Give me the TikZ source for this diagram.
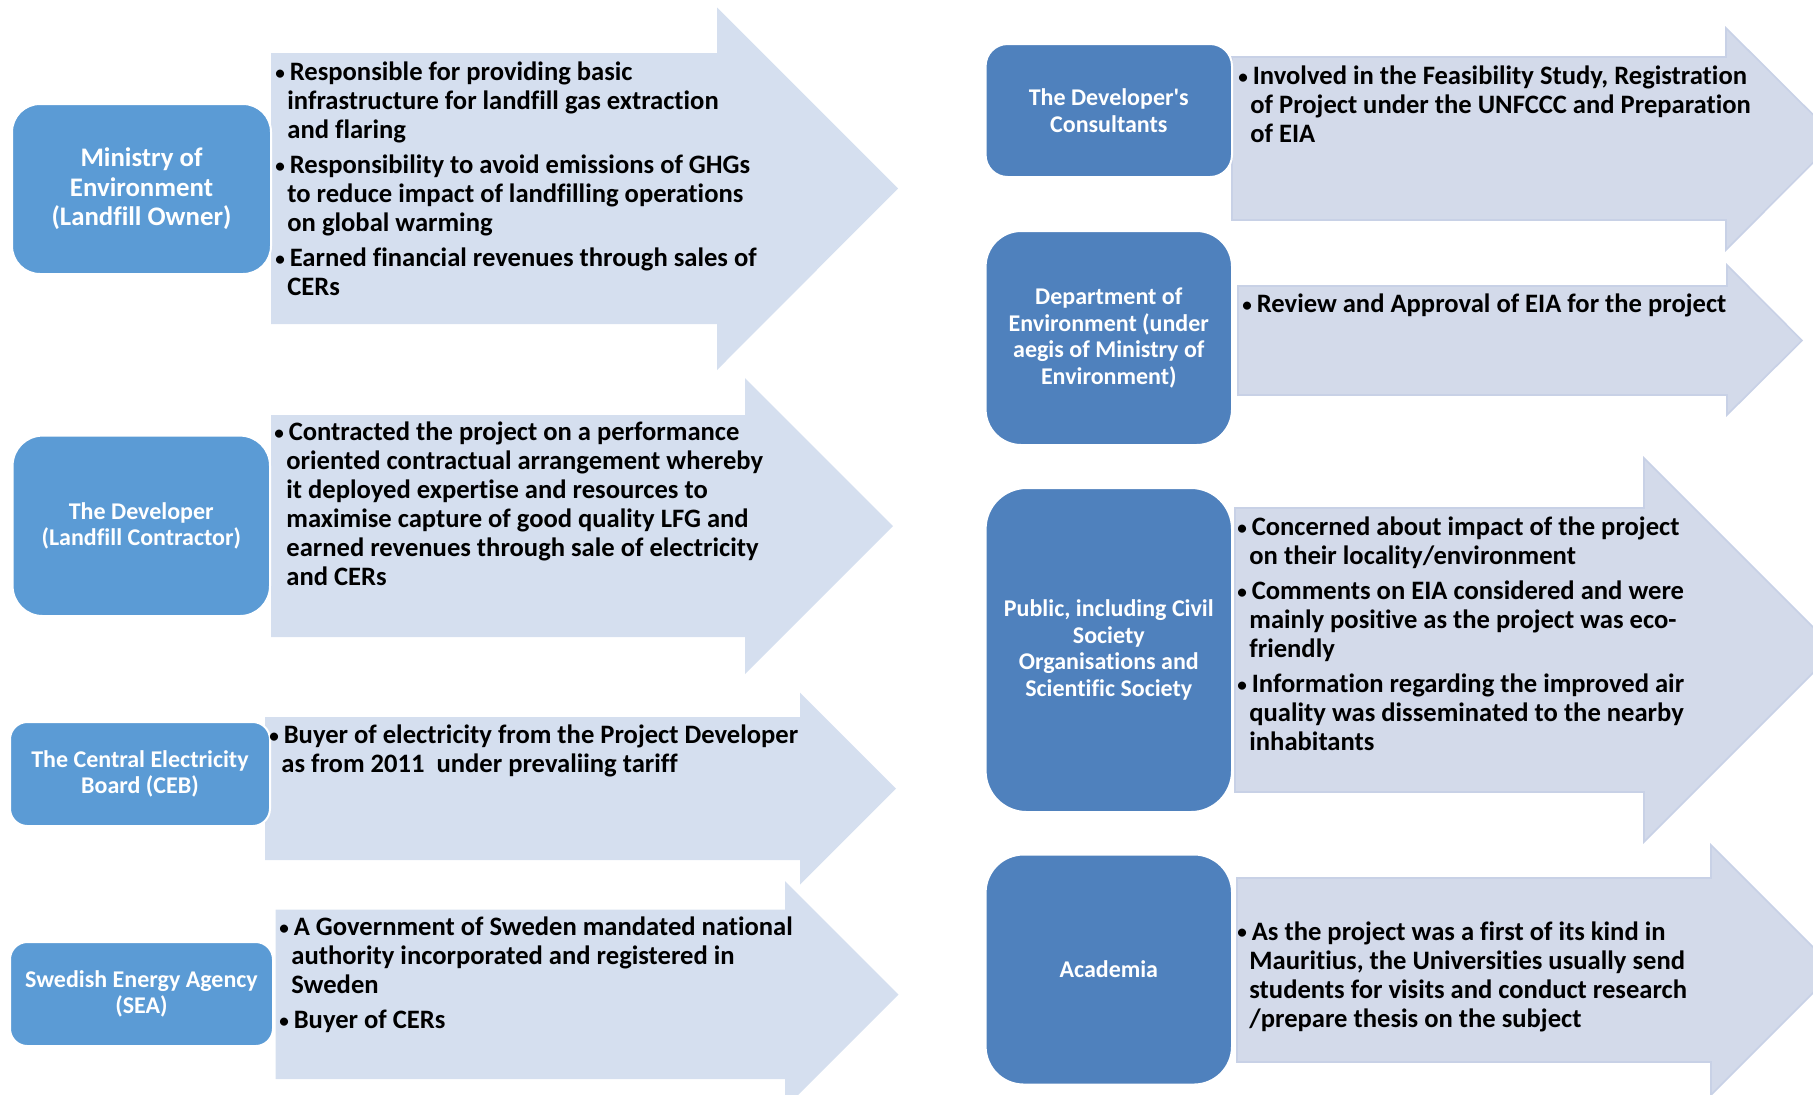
\documentclass[tikz,border=0pt]{standalone}
\usepackage{fontspec}
\setmainfont{Carlito}[Ligatures={NoCommon}]
\definecolor{boxL}{HTML}{5B9BD5}
\definecolor{boxR}{HTML}{4F81BD}
\definecolor{arrL}{HTML}{D5DFEF}
\definecolor{arrR}{HTML}{D3DAEA}
\definecolor{arrRline}{HTML}{C8D1E6}
\newcommand\bu{\makebox[7.2pt][l]{\raisebox{0.9pt}{\scalebox{0.72}{•}}}}
\newcommand\ind{\hspace*{6pt}}
\newcommand\fs{\rule{0pt}{11pt}}
\tikzset{
  arrowL/.style={fill=arrL},
  arrowR/.style={fill=arrR, draw=arrRline, line width=0.8pt},
  boxbase/.style={draw=white, line width=1pt, text=white, align=center,
    font=\bfseries\fontsize{12}{13.2}\selectfont, inner sep=0pt},
  leftbox/.style={boxbase, fill=boxL},
  rightbox/.style={boxbase, fill=boxR},
  body/.style={anchor=north west, align=left, inner sep=0pt,
    font=\bfseries\fontsize{13.3}{14.5}\selectfont}
}
\begin{document}
\begin{tikzpicture}[x=0.5pt,y=-0.5pt]
\useasboundingbox (0,0) rectangle (1813,1094);
\begin{scope}
\clip (0,0) rectangle (1813,1094);
% left arrows
\fill[arrowL] (271,53) -- (717,53) -- (717,7.5) -- (898,188.5) -- (717,370) -- (717,324) -- (271,324) -- cycle;
\fill[arrowL] (271,415) -- (745,415) -- (745,378) -- (893,526) -- (745,674) -- (745,637) -- (271,637) -- cycle;
\fill[arrowL] (265,717) -- (800,717) -- (800,692.5) -- (896,788.5) -- (800,884.5) -- (800,860) -- (265,860) -- cycle;
\fill[arrowL] (275.5,909.6) -- (785,909.6) -- (785,881) -- (898.5,994.5) -- (785,1108) -- (785,1079) -- (275.5,1079) -- cycle;
% right arrows
\filldraw[arrowR] (1232,57) -- (1726,57) -- (1726,28) -- (1837,138.5) -- (1726,250) -- (1726,220) -- (1232,220) -- cycle;
\filldraw[arrowR] (1238,286) -- (1727,286) -- (1727,265) -- (1802,340.5) -- (1727,415) -- (1727,395) -- (1238,395) -- cycle;
\filldraw[arrowR] (1235,508) -- (1644,508) -- (1644,458) -- (1836,650) -- (1644,842) -- (1644,792) -- (1235,792) -- cycle;
\filldraw[arrowR] (1237,878) -- (1711,878) -- (1711,845) -- (1836,970) -- (1711,1095) -- (1711,1062) -- (1237,1062) -- cycle;
\end{scope}

% boxes
\node[leftbox, minimum width=129.5pt, minimum height=85pt, rounded corners=14pt,
  font=\bfseries\fontsize{13.4}{14.7}\selectfont] (b1) at (141.5,189) {Ministry of\\Environment\\(Landfill Owner)};
\node[leftbox, minimum width=128.7pt, minimum height=90.2pt, rounded corners=15pt] (b2) at (141.3,525.8) {The Developer\\(Landfill Contractor)};
\node[leftbox, minimum width=130pt, minimum height=52pt, rounded corners=8.7pt] (b3) at (140,774) {The Central Electricity\\Board (CEB)};
\node[leftbox, minimum width=131.5pt, minimum height=52pt, rounded corners=8.7pt] (b4) at (141.5,994) {Swedish Energy Agency\\(SEA)};
\node[rightbox, minimum width=123.2pt, minimum height=66.5pt, rounded corners=11pt] (b5) at (1108.8,110.5) {The Developer\textquotesingle s\\Consultants};
\node[rightbox, minimum width=123.2pt, minimum height=107pt, rounded corners=17.8pt] (b6) at (1108.8,338) {Department of\\Environment (under\\aegis of Ministry of\\Environment)};
\node[rightbox, minimum width=123.2pt, minimum height=162pt, rounded corners=20.5pt] (b7) at (1108.8,650) {Public, including Civil\\Society\\Organisations and\\Scientific Society};
\node[rightbox, minimum width=123.2pt, minimum height=115pt, rounded corners=19pt] (b8) at (1108.8,969.5) {Academia};

% texts
\node[body] (t1) at (275,58.5) {\fs\bu Responsible for providing basic\\
\ind infrastructure for landfill gas extraction\\
\ind and flaring\\[3pt]
\bu Responsibility to avoid emissions of GHGs\\
\ind to reduce impact of landfilling operations\\
\ind on global warming\\[3pt]
\bu Earned financial revenues through sales of\\
\ind CERs};
\node[body] (t2) at (274,418.5) {\fs\bu Contracted the project on a performance\\
\ind oriented contractual arrangement whereby\\
\ind it deployed expertise and resources to\\
\ind maximise capture of good quality LFG and\\
\ind earned revenues through sale of electricity\\
\ind and CERs};
\node[body] (t3) at (269,721.5) {\fs\bu Buyer of electricity from the Project Developer\\
\ind as from 2011\ \ under prevaliing tariff};
\node[body] (t4) at (279,913.5) {\fs\bu A Government of Sweden mandated national\\
\ind authority incorporated and registered in\\
\ind Sweden\\[3pt]
\bu Buyer of CERs};
\node[body] (t5) at (1238,62.5) {\fs\bu Involved in the Feasibility Study, Registration\\
\ind of Project under the UNFCCC and Preparation\\
\ind of EIA};
\node[body] (t6) at (1242,290.5) {\fs\bu Review and Approval of EIA for the project};
\node[body] (t7) at (1237,513.5) {\fs\bu Concerned about impact of the project\\
\ind on their locality/environment\\[3pt]
\bu Comments on EIA considered and were\\
\ind mainly positive as the project was eco-\\
\ind friendly\\[3pt]
\bu Information regarding the improved air\\
\ind quality was disseminated to the nearby\\
\ind inhabitants};
\node[body] (t8) at (1237,918) {\fs\bu As the project was a first of its kind in\\
\ind Mauritius, the Universities usually send\\
\ind students for visits and conduct research\\
\ind /prepare thesis on the subject};
\end{tikzpicture}
\end{document}
